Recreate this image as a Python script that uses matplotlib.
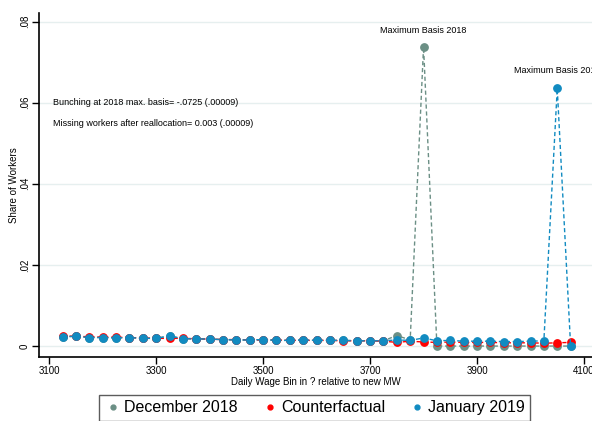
import numpy as np
import matplotlib
matplotlib.use("Agg")
import matplotlib.pyplot as plt
from matplotlib.ticker import FuncFormatter

plt.rcParams['font.family'] = ['Liberation Sans', 'DejaVu Sans']

# wage bins (25-unit steps)
bins = np.arange(3125, 4076, 25)

dec_2018 = [0.0023, 0.0024, 0.0021, 0.0021, 0.0020, 0.0021, 0.0019, 0.0019, 0.0025, 0.0018,
            0.0018, 0.0017, 0.0016, 0.0015, 0.0015, 0.0016, 0.0014, 0.0014, 0.0015, 0.0014,
            0.0014, 0.0014, 0.0013, 0.0013, 0.0013, 0.0026, 0.0015, 0.0738, 0.0, 0.0,
            0.0, 0.0, 0.0, 0.0, 0.0, 0.0, 0.0, 0.0, 0.0]
counterfactual = [0.0025, 0.0024, 0.0023, 0.0022, 0.0022, 0.0021, 0.0020, 0.0019, 0.0019, 0.0019,
                  0.0018, 0.0017, 0.0016, 0.0016, 0.0015, 0.0015, 0.0015, 0.0014, 0.0014, 0.0014,
                  0.0014, 0.0013, 0.0013, 0.0013, 0.0012, 0.0009, 0.0012, 0.0010, 0.0009, 0.0010,
                  0.0009, 0.0009, 0.0009, 0.0008, 0.0008, 0.0008, 0.0007, 0.0008, 0.0009]
jan_2019 = [0.0023, 0.0024, 0.0021, 0.0021, 0.0020, 0.0021, 0.0019, 0.0019, 0.0025, 0.0018,
            0.0018, 0.0017, 0.0016, 0.0015, 0.0015, 0.0016, 0.0014, 0.0014, 0.0015, 0.0014,
            0.0014, 0.0014, 0.0013, 0.0013, 0.0013, 0.0015, 0.0014, 0.0020, 0.0013, 0.0014,
            0.0012, 0.0012, 0.0012, 0.0011, 0.0011, 0.0012, 0.0013, 0.0635, 0.0]

x_ticks = [3100, 3300, 3500, 3700, 3900, 4100]
y_ticks = [0, 0.02, 0.04, 0.06, 0.08]

c_dec = '#6b8f85'
c_cf = '#ff0000'
c_jan = '#118bc1'

fig = plt.figure(figsize=(5.92, 4.21), dpi=100)
ax = fig.add_axes([0.066, 0.152, 0.934, 0.818])

ax.plot(bins, dec_2018, color=c_dec, ls=(0, (3, 2)), lw=1, marker='o', ms=5.3,
        label='December 2018')
ax.plot(bins, counterfactual, color=c_cf, ls=(0, (3, 2)), lw=1, marker='o', ms=5.3,
        label='Counterfactual')
ax.plot(bins, jan_2019, color=c_jan, ls=(0, (3, 2)), lw=1, marker='o', ms=5.3,
        label='January 2019')

ax.set_xlim(3081, 4115)
ax.set_ylim(-0.0027, 0.0822)
ax.set_xticks(x_ticks)
ax.set_yticks(y_ticks)
ax.yaxis.set_major_formatter(FuncFormatter(lambda v, p: '0' if v == 0 else f'{v:.2f}'.lstrip('0')))
ax.tick_params(axis='both', labelsize=7, length=5, width=1, direction='out')
ax.tick_params(axis='y', pad=1.5)
ax.tick_params(axis='x', pad=1.5)
plt.setp(ax.get_yticklabels(), rotation=90, va='center')

ax.grid(axis='y', color='#e6efef', lw=1)
ax.set_axisbelow(True)
for s in ['top', 'right']:
    ax.spines[s].set_visible(False)
ax.spines['left'].set_linewidth(1.2)
ax.spines['bottom'].set_linewidth(1.2)

ax.set_xlabel('Daily Wage Bin in ? relative to new MW', fontsize=7, labelpad=1)
ax.set_ylabel('Share of Workers', fontsize=7, labelpad=1)

ax.text(3107, 0.0600, 'Bunching at 2018 max. basis= -.0725 (.00009)', fontsize=6.5, va='center')
ax.text(3107, 0.0548, 'Missing workers after reallocation= 0.003 (.00009)', fontsize=6.5, va='center')
ax.text(3800, 0.0778, 'Maximum Basis 2018', fontsize=6.5, ha='center', va='center')
ax.text(4050, 0.0679, 'Maximum Basis 2019', fontsize=6.5, ha='center', va='center', clip_on=False)

handles, labels = ax.get_legend_handles_labels()
handles = [plt.Line2D([], [], color=h.get_color(), marker='o', ls='none', ms=3.5) for h in handles]
fig.legend(handles, labels, loc='upper center', bbox_to_anchor=(0.532, 0.062), ncol=3,
           fontsize=11.5, frameon=True, fancybox=False, edgecolor='#333333',
           handletextpad=0.2, columnspacing=1.5, borderpad=0.35, handlelength=1.0,
           borderaxespad=0)

fig.savefig('out.png', dpi=100)
